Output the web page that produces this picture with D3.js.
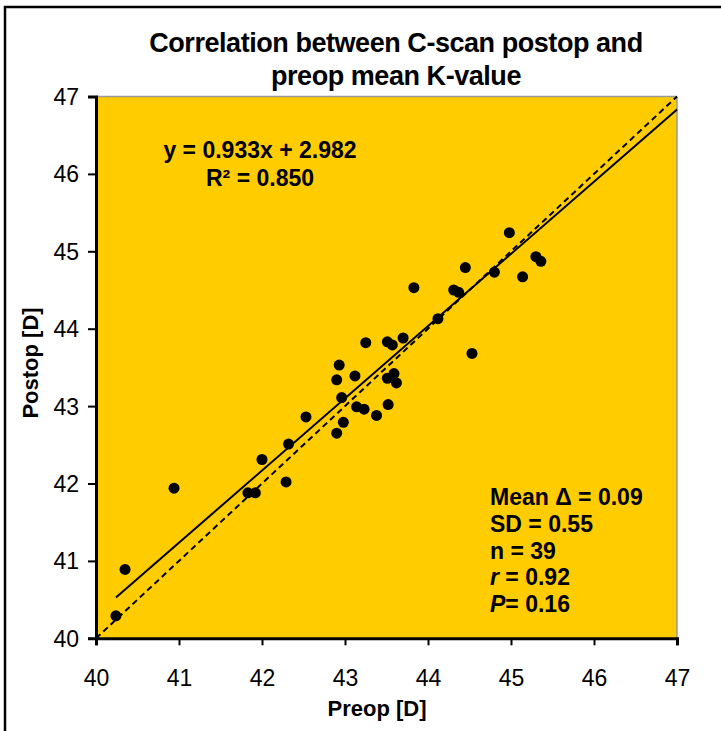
<!DOCTYPE html>
<html>
<head>
<meta charset="utf-8">
<script src="https://cdnjs.cloudflare.com/ajax/libs/d3/7.8.5/d3.min.js"></script>
<style>
  html, body { margin: 0; padding: 0; background: #fff; }
  svg { display: block; font-family: "Liberation Sans", Arial, sans-serif; }
</style>
</head>
<body>
<script>
// ---- data ----
const preop = [40.24, 40.35, 40.94, 41.83, 41.92, 42.00, 42.29, 42.32, 42.53, 42.90,
               42.98, 42.96, 42.90, 42.93, 43.12, 43.14, 43.23, 43.25, 43.38, 43.52,
               43.51, 43.59, 43.62, 43.51, 43.57, 43.70, 43.83, 44.12, 44.31, 44.37,
               44.45, 44.53, 44.80, 44.98, 45.14, 45.30, 45.36];
const postop = [40.29, 40.89, 41.94, 41.88, 41.88, 42.31, 42.02, 42.51, 42.86, 42.65,
                42.79, 43.11, 43.34, 43.53, 43.39, 42.99, 42.96, 43.82, 42.88, 43.02,
                43.36, 43.42, 43.30, 43.83, 43.79, 43.88, 44.53, 44.13, 44.50, 44.47,
                44.79, 43.68, 44.73, 45.24, 44.67, 44.93, 44.87];
const xTicks = [40, 41, 42, 43, 44, 45, 46, 47];
const yTicks = [40, 41, 42, 43, 44, 45, 46, 47];
const slope = 0.933, intercept = 2.982;
const titleLines = ["Correlation between C-scan postop and", "preop mean K-value"];
const eqLines = ["y = 0.933x + 2.982", "R² = 0.850"];

const W = 721, H = 731;
const svg = d3.select("body").append("svg").attr("width", W).attr("height", H);

// outer border
svg.append("rect").attr("x", 5).attr("y", 7).attr("width", 730).attr("height", 740)
  .attr("fill", "#fff").attr("stroke", "#000").attr("stroke-width", 2.5);

const x = d3.scaleLinear().domain([40, 47]).range([96, 677]);
const y = d3.scaleLinear().domain([40, 47]).range([638.3, 96.5]);

// plot area
svg.append("rect").attr("x", x(40)).attr("y", y(47))
  .attr("width", x(47) - x(40)).attr("height", y(40) - y(47))
  .attr("fill", "#FFCC00");
svg.append("line").attr("x1", x(40)).attr("x2", x(47)).attr("y1", y(47)).attr("y2", y(47))
  .attr("stroke", "#999").attr("stroke-width", 1.5);
svg.append("line").attr("x1", x(47)).attr("x2", x(47)).attr("y1", y(47)).attr("y2", y(40))
  .attr("stroke", "#999").attr("stroke-width", 1.5);

// axes
const xAxis = d3.axisBottom(x).tickValues(xTicks).tickSize(7).tickPadding(24).tickFormat(d3.format("d"));
const yAxis = d3.axisLeft(y).tickValues(yTicks).tickSize(8).tickPadding(9).tickFormat(d3.format("d"));
const gx = svg.append("g").attr("transform", `translate(0,${y(40)})`).call(xAxis);
const gy = svg.append("g").attr("transform", `translate(${x(40)},0)`).call(yAxis);
[gx, gy].forEach(g => {
  g.select(".domain").attr("stroke", "#000").attr("stroke-width", 3);
  g.selectAll(".tick line").attr("stroke", "#000").attr("stroke-width", 2);
  g.selectAll(".tick text").attr("fill", "#000").style("font-size", "23px")
    .style("font-family", "'Liberation Sans', Arial, sans-serif");
});
gy.selectAll(".tick text").attr("dy", "0.35em");

// identity line (dashed)
svg.append("line").attr("x1", x(40)).attr("y1", y(40)).attr("x2", x(47)).attr("y2", y(47))
  .attr("stroke", "#000").attr("stroke-width", 2).attr("stroke-dasharray", "6,4");

// regression line
const xMin = d3.min(preop);
svg.append("line").attr("x1", x(xMin)).attr("y1", y(slope * xMin + intercept))
  .attr("x2", x(47)).attr("y2", y(slope * 47 + intercept))
  .attr("stroke", "#000").attr("stroke-width", 2);

// points
svg.append("g").selectAll("circle").data(preop).join("circle")
  .attr("cx", d => x(d)).attr("cy", (d, i) => y(postop[i])).attr("r", 5.5).attr("fill", "#000");

// title
svg.append("g").selectAll("text").data(titleLines).join("text")
  .attr("x", 396).attr("y", (d, i) => 52 + i * 33)
  .attr("text-anchor", "middle").attr("font-weight", "bold").attr("font-size", 27)
  .attr("letter-spacing", "-0.45")
  .text(d => d);

// equation
svg.append("g").selectAll("text").data(eqLines).join("text")
  .attr("x", 260).attr("y", (d, i) => 158 + i * 28)
  .attr("text-anchor", "middle").attr("font-weight", "bold").attr("font-size", 23)
  .text(d => d);

// stats
const stats = svg.append("g").attr("font-weight", "bold").attr("font-size", 23);
const sx = 490, sy0 = 505, sdy = 26.8;
stats.append("text").attr("x", sx).attr("y", sy0).text("Mean Δ = 0.09");
stats.append("text").attr("x", sx).attr("y", sy0 + sdy).text("SD = 0.55");
stats.append("text").attr("x", sx).attr("y", sy0 + 2 * sdy).text("n = 39");
const t4 = stats.append("text").attr("x", sx).attr("y", sy0 + 3 * sdy);
t4.append("tspan").attr("font-style", "italic").text("r");
t4.append("tspan").text(" = 0.92");
const t5 = stats.append("text").attr("x", sx).attr("y", sy0 + 4 * sdy);
t5.append("tspan").attr("font-style", "italic").text("P");
t5.append("tspan").text("= 0.16");

// axis titles
svg.append("text").attr("x", 377).attr("y", 716).attr("text-anchor", "middle")
  .attr("font-weight", "bold").attr("font-size", 22).text("Preop [D]");
svg.append("text").attr("transform", "translate(38,363) rotate(-90)").attr("text-anchor", "middle")
  .attr("font-weight", "bold").attr("font-size", 22).text("Postop [D]");
</script>
</body>
</html>
